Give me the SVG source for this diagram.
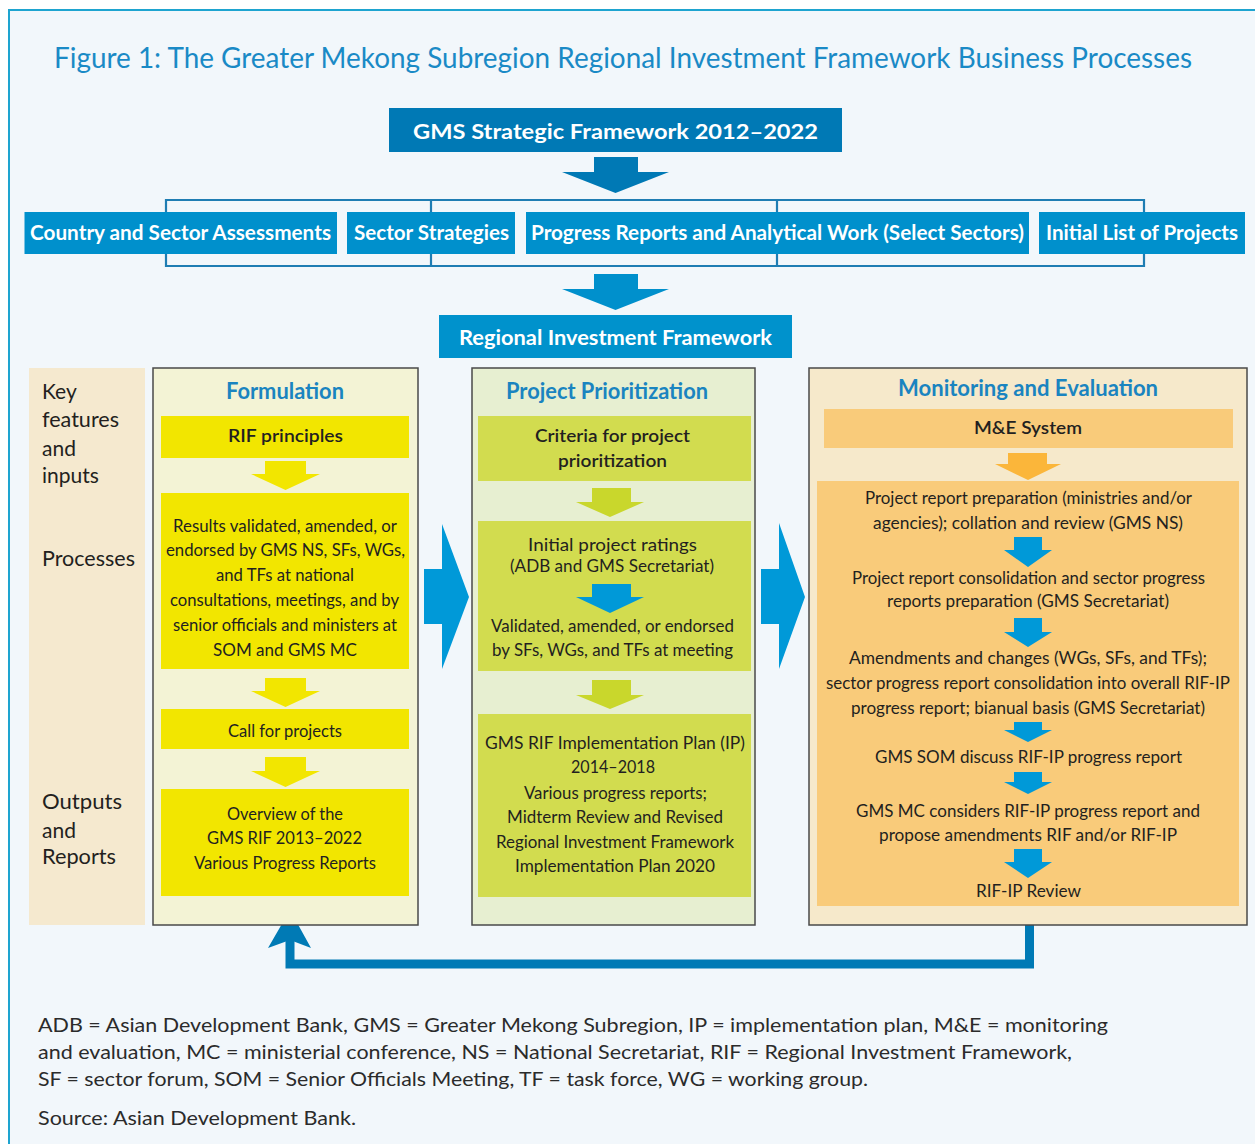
<svg xmlns="http://www.w3.org/2000/svg" width="1255" height="1144" viewBox="0 0 1255 1144">
<defs>
<style>
.t{font-family:Lato,"Open Sans","Liberation Sans",sans-serif;fill:#231f20;font-size:18px;text-anchor:middle}
.lab{font-family:Lato,"Open Sans","Liberation Sans",sans-serif;fill:#231f20;font-size:21px}
.hb{font-family:Lato,"Open Sans","Liberation Sans",sans-serif;fill:#ffffff;font-weight:bold;font-size:21px;text-anchor:middle}
.ct{font-family:Lato,"Open Sans","Liberation Sans",sans-serif;fill:#1a84c0;font-weight:bold;font-size:22px;text-anchor:middle}
.m{font-weight:600}
.fn{font-family:Lato,"Open Sans","Liberation Sans",sans-serif;fill:#2b2b2b;font-size:20px}
.col{stroke:#4a4a4a;stroke-width:1.5}
.ya{fill:#f2e600}
.ga{fill:#c9d72c}
.ba{fill:#0099d8}
</style>
</defs>
<rect x="0" y="0" width="1255" height="1144" fill="#ffffff"/>
<rect x="9" y="10" width="1260" height="1150" fill="#f2f7fb" stroke="#1ea4d0" stroke-width="2"/>

<text x="54" y="68" font-family="Lato,'Open Sans','Liberation Sans',sans-serif" font-size="28" fill="#1a8ac6" textLength="1138" lengthAdjust="spacingAndGlyphs">Figure 1: The Greater Mekong Subregion Regional Investment Framework Business Processes</text>

<g id="connectors">
<polygon points="594,157 638,157 638,172 669,172 615.5,193 562,172 594,172" fill="#0079b5"/>
<polyline points="166,212 166,200 1144,200 1144,212" fill="none" stroke="#1f7db3" stroke-width="2.2"/>
<line x1="431" y1="200" x2="431" y2="212" stroke="#1f7db3" stroke-width="2.2"/>
<line x1="777" y1="200" x2="777" y2="212" stroke="#1f7db3" stroke-width="2.2"/>
<polyline points="166,254 166,266 1144,266 1144,254" fill="none" stroke="#1f7db3" stroke-width="2.2"/>
<line x1="431" y1="254" x2="431" y2="266" stroke="#1f7db3" stroke-width="2.2"/>
<line x1="777" y1="254" x2="777" y2="266" stroke="#1f7db3" stroke-width="2.2"/>
<polygon points="594,274 638,274 638,289 669,289 615.5,310 562,289 594,289" fill="#0090cc"/>
<polygon points="424,569 442,569 442,524 469,597 442,669 442,624 424,624" fill="#0099d8"/>
<polygon points="761,569 779,569 779,523 805,597 779,669 779,624 761,624" fill="#0099d8"/>
<polyline points="1029.5,917 1029.5,964 290,964 290,938" fill="none" stroke="#007ab5" stroke-width="9"/>
<polygon points="290,910 311,948 290,940 268,948" fill="#007ab5"/>
</g>

<g id="gms-strategic">
<rect x="389" y="108" width="453" height="44" fill="#0079b5"/>
<text class="hb" x="615.5" y="139" font-size="24" textLength="405" lengthAdjust="spacingAndGlyphs">GMS Strategic Framework 2012–2022</text>
</g>
<g id="country-sector">
<rect x="24.5" y="212" width="312.5" height="42" fill="#0090cc"/>
<text class="hb" x="180.5" y="240" textLength="301" lengthAdjust="spacingAndGlyphs">Country and Sector Assessments</text>
</g>
<g id="sector-strategies">
<rect x="347" y="212" width="168" height="42" fill="#0090cc"/>
<text class="hb" x="431.5" y="240" textLength="155" lengthAdjust="spacingAndGlyphs">Sector Strategies</text>
</g>
<g id="progress-reports">
<rect x="526" y="212" width="503" height="42" fill="#0090cc"/>
<text class="hb" x="777.5" y="240" textLength="493" lengthAdjust="spacingAndGlyphs">Progress Reports and Analytical Work (Select Sectors)</text>
</g>
<g id="initial-list">
<rect x="1039" y="212" width="206" height="42" fill="#0090cc"/>
<text class="hb" x="1142" y="240" textLength="192" lengthAdjust="spacingAndGlyphs">Initial List of Projects</text>
</g>
<g id="rif">
<rect x="439" y="315" width="353" height="43" fill="#0092cc"/>
<text class="hb" x="615.5" y="345" textLength="313" lengthAdjust="spacingAndGlyphs">Regional Investment Framework</text>
</g>

<g id="key-features">
<rect x="29" y="368" width="116" height="557" fill="#f5e9cf"/>
<text class="lab" x="42" y="399">Key</text>
<text class="lab" x="42" y="427" textLength="77" lengthAdjust="spacingAndGlyphs">features</text>
<text class="lab" x="42" y="456">and</text>
<text class="lab" x="42" y="483">inputs</text>
<text class="lab" x="42" y="566" textLength="93" lengthAdjust="spacingAndGlyphs">Processes</text>
<text class="lab" x="42" y="809" textLength="80" lengthAdjust="spacingAndGlyphs">Outputs</text>
<text class="lab" x="42" y="838">and</text>
<text class="lab" x="42" y="864" textLength="74" lengthAdjust="spacingAndGlyphs">Reports</text>
</g>

<g id="formulation">
<rect x="153" y="368" width="265" height="557" fill="#f3f3d5" class="col"/>
<text class="ct" x="285" y="399" textLength="118" lengthAdjust="spacingAndGlyphs">Formulation</text>
<rect x="161" y="416" width="248" height="42" fill="#f2e600"/>
<text class="t m" x="285.5" y="442" textLength="115" lengthAdjust="spacingAndGlyphs">RIF principles</text>
<polygon class="ya" points="265,461 306,461 306,474 320,474 285.5,490 251,474 265,474"/>
<rect x="161" y="493" width="248" height="176" fill="#f2e600"/>
<text class="t" x="285" y="532" textLength="224" lengthAdjust="spacingAndGlyphs">Results validated, amended, or</text>
<text class="t" x="285.5" y="556" textLength="239" lengthAdjust="spacingAndGlyphs">endorsed by GMS NS, SFs, WGs,</text>
<text class="t" x="285" y="581" textLength="138" lengthAdjust="spacingAndGlyphs">and TFs at national</text>
<text class="t" x="284.5" y="606" textLength="229" lengthAdjust="spacingAndGlyphs">consultations, meetings, and by</text>
<text class="t" x="285" y="631" textLength="224" lengthAdjust="spacingAndGlyphs">senior officials and ministers at</text>
<text class="t" x="285" y="656" textLength="144" lengthAdjust="spacingAndGlyphs">SOM and GMS MC</text>
<polygon class="ya" points="265,678 306,678 306,691 320,691 285.5,707 251,691 265,691"/>
<rect x="161" y="709" width="248" height="40" fill="#f2e600"/>
<text class="t" x="285" y="737" textLength="114" lengthAdjust="spacingAndGlyphs">Call for projects</text>
<polygon class="ya" points="265,757 306,757 306,771 320,771 285.5,787 251,771 265,771"/>
<rect x="161" y="789" width="248" height="107" fill="#f2e600"/>
<text class="t" x="285" y="820" textLength="116" lengthAdjust="spacingAndGlyphs">Overview of the</text>
<text class="t" x="284.5" y="844" textLength="155" lengthAdjust="spacingAndGlyphs">GMS RIF 2013–2022</text>
<text class="t" x="285" y="869" textLength="182" lengthAdjust="spacingAndGlyphs">Various Progress Reports</text>
</g>

<g id="project-prioritization">
<rect x="472" y="368" width="283" height="557" fill="#e7efd1" class="col"/>
<text class="ct" x="607" y="399" textLength="202" lengthAdjust="spacingAndGlyphs">Project Prioritization</text>
<rect x="478" y="416" width="273" height="65" fill="#d2dc4f"/>
<text class="t m" x="612.5" y="442" textLength="155" lengthAdjust="spacingAndGlyphs">Criteria for project</text>
<text class="t m" x="612.5" y="467" textLength="109" lengthAdjust="spacingAndGlyphs">prioritization</text>
<polygon class="ga" points="592,488 631,488 631,502 644,502 610,517 576,502 592,502"/>
<rect x="478" y="521" width="273" height="150" fill="#d2dc4f"/>
<text class="t" x="612.5" y="551" textLength="169" lengthAdjust="spacingAndGlyphs">Initial project ratings</text>
<text class="t" x="612" y="572" font-size="16" textLength="204" lengthAdjust="spacingAndGlyphs">(ADB and GMS Secretariat)</text>
<polygon class="ba" points="592,584 631,584 631,597 644,597 610,613 576,597 592,597"/>
<text class="t" x="612.5" y="632" textLength="243" lengthAdjust="spacingAndGlyphs">Validated, amended, or endorsed</text>
<text class="t" x="612.5" y="656" textLength="241" lengthAdjust="spacingAndGlyphs">by SFs, WGs, and TFs at meeting</text>
<polygon class="ga" points="592,680 631,680 631,695 644,695 610,709 576,695 592,695"/>
<rect x="478" y="714" width="273" height="183" fill="#d2dc4f"/>
<text class="t" x="615" y="749" textLength="260" lengthAdjust="spacingAndGlyphs">GMS RIF Implementation Plan (IP)</text>
<text class="t" x="613" y="773" textLength="84" lengthAdjust="spacingAndGlyphs">2014–2018</text>
<text class="t" x="615.5" y="799" textLength="183" lengthAdjust="spacingAndGlyphs">Various progress reports;</text>
<text class="t" x="615" y="823" textLength="216" lengthAdjust="spacingAndGlyphs">Midterm Review and Revised</text>
<text class="t" x="615" y="848" textLength="238" lengthAdjust="spacingAndGlyphs">Regional Investment Framework</text>
<text class="t" x="615" y="872" textLength="200" lengthAdjust="spacingAndGlyphs">Implementation Plan 2020</text>
</g>

<g id="monitoring-evaluation">
<rect x="809" y="368" width="438" height="557" fill="#f6e9cb" class="col"/>
<text class="ct" x="1028" y="396" textLength="260" lengthAdjust="spacingAndGlyphs">Monitoring and Evaluation</text>
<rect x="824" y="409" width="409" height="39" fill="#f9cb7a"/>
<text class="t m" x="1028" y="434" textLength="108" lengthAdjust="spacingAndGlyphs">M&amp;E System</text>
<rect x="817" y="481" width="422" height="425" fill="#f9cb7a"/>
<polygon points="1008,453 1047,453 1047,464 1061,464 1028,480 995,464 1008,464" fill="#fbb63a"/>
<text class="t" x="1028.5" y="504" textLength="327" lengthAdjust="spacingAndGlyphs">Project report preparation (ministries and/or</text>
<text class="t" x="1028" y="529" textLength="310" lengthAdjust="spacingAndGlyphs">agencies); collation and review (GMS NS)</text>
<polygon class="ba" points="1014,537 1042,537 1042,550 1052,550 1028,567 1004,550 1014,550"/>
<text class="t" x="1028.5" y="584" textLength="353" lengthAdjust="spacingAndGlyphs">Project report consolidation and sector progress</text>
<text class="t" x="1028" y="607" textLength="282" lengthAdjust="spacingAndGlyphs">reports preparation (GMS Secretariat)</text>
<polygon class="ba" points="1014,618 1042,618 1042,632 1052,632 1028,647 1004,632 1014,632"/>
<text class="t" x="1028" y="664" textLength="358" lengthAdjust="spacingAndGlyphs">Amendments and changes (WGs, SFs, and TFs);</text>
<text class="t" x="1028" y="689" textLength="404" lengthAdjust="spacingAndGlyphs">sector progress report consolidation into overall RIF-IP</text>
<text class="t" x="1028" y="714" textLength="354" lengthAdjust="spacingAndGlyphs">progress report; bianual basis (GMS Secretariat)</text>
<polygon class="ba" points="1014,722 1042,722 1042,730 1052,730 1028,742 1004,730 1014,730"/>
<text class="t" x="1028.5" y="763" textLength="307" lengthAdjust="spacingAndGlyphs">GMS SOM discuss RIF-IP progress report</text>
<polygon class="ba" points="1014,772 1042,772 1042,782 1052,782 1028,794 1004,782 1014,782"/>
<text class="t" x="1028" y="817" textLength="344" lengthAdjust="spacingAndGlyphs">GMS MC considers RIF-IP progress report and</text>
<text class="t" x="1028" y="841" textLength="298" lengthAdjust="spacingAndGlyphs">propose amendments RIF and/or RIF-IP</text>
<polygon class="ba" points="1014,849 1042,849 1042,862 1052,862 1028,878 1004,862 1014,862"/>
<text class="t" x="1028.5" y="897" textLength="105" lengthAdjust="spacingAndGlyphs">RIF-IP Review</text>
</g>

<g id="notes">
<text class="fn" x="38" y="1032" textLength="1070" lengthAdjust="spacingAndGlyphs">ADB = Asian Development Bank, GMS = Greater Mekong Subregion, IP = implementation plan, M&amp;E = monitoring</text>
<text class="fn" x="38" y="1059" textLength="1034" lengthAdjust="spacingAndGlyphs">and evaluation, MC = ministerial conference, NS = National Secretariat, RIF = Regional Investment Framework,</text>
<text class="fn" x="38" y="1086" textLength="830" lengthAdjust="spacingAndGlyphs">SF = sector forum, SOM = Senior Officials Meeting, TF = task force, WG = working group.</text>
<text class="fn" x="38" y="1125" textLength="318" lengthAdjust="spacingAndGlyphs">Source: Asian Development Bank.</text>
</g>
</svg>
